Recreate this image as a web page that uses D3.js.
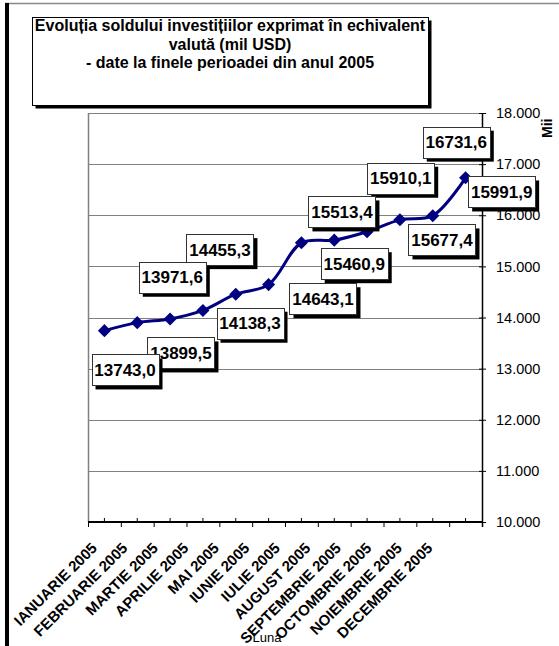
<!DOCTYPE html>
<html><head><meta charset="utf-8">
<script src="https://cdn.jsdelivr.net/npm/d3@7"></script>
<style>body{margin:0;background:#fff}svg{display:block;font-family:"Liberation Sans",Arial,sans-serif}</style>
</head><body>
<svg id="c" width="559" height="646"></svg>
<script>
const categories = ["IANUARIE 2005","FEBRUARIE 2005","MARTIE 2005","APRILIE 2005","MAI 2005","IUNIE 2005","IULIE 2005","AUGUST 2005","SEPTEMBRIE 2005","OCTOMBRIE 2005","NOIEMBRIE 2005","DECEMBRIE 2005"];
const values = [13743.0,13899.5,13971.6,14138.3,14455.3,14643.1,15460.9,15513.4,15677.4,15910.1,15991.9,16731.6];
const yTicks = [10000,11000,12000,13000,14000,15000,16000,17000,18000];
const titleLines = ["Evoluția soldului investițiilor exprimat în echivalent","valută (mil USD)","- date la finele perioadei din anul 2005"];
const xTitle = "Luna";
const yTitle = "Mii";
// label offsets (layout only): dx, dy from point to label centre
const labelOffsets = [[20.6,39.3],[43.7,30.3],[2.2,-41.7],[47.1,12.8],[-15.8,-44.6],[54.4,14.1],[52.8,20.9],[7.7,-28.2],[74.9,8.2],[0.8,-41.6],[68.9,-23.7],[-9.3,-35.7]];

const svg = d3.select("#c");
const L = 88, R = 482, T = 113, B = 522;
const loc = d3.formatLocale({decimal:",", thousands:".", grouping:[3], currency:["",""]});
const fTick = loc.format(",");
const fVal = loc.format(".1f");

// outer frame
svg.append("line").attr("x1",5).attr("x2",559).attr("y1",3.5).attr("y2",3.5).attr("stroke","#888").attr("stroke-width",1.5);
svg.append("rect").attr("x",5).attr("y",3).attr("width",4).attr("height",643).attr("fill","#000");

// title box
svg.append("rect").attr("x",35.5).attr("y",20.5).attr("width",396).attr("height",88).attr("fill","#000");
svg.append("rect").attr("x",32.5).attr("y",17.5).attr("width",396).attr("height",88).attr("fill","#fff").attr("stroke","#000").attr("stroke-width",1);
svg.append("g").selectAll("text").data(titleLines).join("text")
  .attr("x",230).attr("y",(d,i)=>31+i*18.5).attr("text-anchor","middle")
  .attr("font-size","16px").attr("font-weight","bold").text(d=>d);

const x = d3.scaleBand().domain(categories).range([L,R]).padding(0);
const y = d3.scaleLinear().domain([10000,18000]).range([B,T]);

// grid
svg.append("g").selectAll("line").data(yTicks.slice(1)).join("line")
  .attr("x1",L).attr("x2",R).attr("y1",d=>Math.round(y(d))+0.5).attr("y2",d=>Math.round(y(d))+0.5)
  .attr("stroke","#808080").attr("stroke-width",1);
// plot left border
svg.append("line").attr("x1",L+0.5).attr("x2",L+0.5).attr("y1",T).attr("y2",B).attr("stroke","#808080").attr("stroke-width",1.5);

// right axis
const ya = svg.append("g").attr("transform",`translate(${R},0)`)
  .call(d3.axisRight(y).tickValues(yTicks).tickFormat(fTick).tickSize(4).tickPadding(10));
ya.select(".domain").remove();
ya.selectAll(".tick line").attr("x1",-3).attr("x2",4).attr("stroke","#000");
ya.selectAll(".tick text").attr("font-size","14.5px").attr("font-family","Liberation Sans, Arial, sans-serif").attr("fill","#000");
svg.append("line").attr("x1",R+0.5).attr("x2",R+0.5).attr("y1",T).attr("y2",B+5).attr("stroke","#000").attr("stroke-width",1.5);

svg.append("text").attr("transform","translate(552,138) rotate(-90)").attr("font-size","14px").attr("font-weight","bold").text(yTitle);

// x axis
const boundaries = categories.map(c=>x(c)).concat([R]);
svg.append("g").selectAll("line").data(boundaries).join("line")
  .attr("x1",d=>d+0.5).attr("x2",d=>d+0.5).attr("y1",B).attr("y2",B+5).attr("stroke","#000");
svg.append("g").selectAll("line").data(categories).join("line")
  .attr("x1",d=>x(d)+x.bandwidth()/2).attr("x2",d=>x(d)+x.bandwidth()/2).attr("y1",B-4).attr("y2",B).attr("stroke","#000");
svg.append("line").attr("x1",L).attr("x2",R).attr("y1",B).attr("y2",B).attr("stroke","#000").attr("stroke-width",2);

const xl = d3.scalePoint().domain(categories).range([98,433.5]);
svg.append("g").selectAll("text").data(categories).join("text")
  .attr("transform",d=>`translate(${xl(d)},549) rotate(-45)`).attr("text-anchor","end")
  .attr("font-size","15px").attr("font-weight","bold").text(d=>d);
svg.append("text").attr("x",267).attr("y",642).attr("text-anchor","middle").attr("font-size","13px").text(xTitle);

// series
const pts = values.map((v,i)=>({c:categories[i],v,i,px:x(categories[i])+x.bandwidth()/2,py:y(v)}));
svg.append("path").datum(pts).attr("fill","none").attr("stroke","#000080").attr("stroke-width",3)
  .attr("d",d3.line().x(d=>d.px).y(d=>d.py).curve(d3.curveCatmullRom.alpha(0.5)));
svg.append("g").selectAll("path").data(pts).join("path")
  .attr("transform",d=>`translate(${d.px},${d.py}) rotate(45)`)
  .attr("d",d3.symbol(d3.symbolSquare,85)).attr("fill","#000080");

// data labels (draw reverse so earlier are on top)
const lg = svg.append("g");
pts.slice().reverse().forEach(d=>{
  const [dx,dy] = labelOffsets[d.i];
  const cx = d.px+dx, cy = d.py+dy, w=67, h=31;
  const g = lg.append("g");
  g.append("rect").attr("x",cx-w/2+4).attr("y",cy-h/2+4).attr("width",w).attr("height",h).attr("fill","#000");
  g.append("rect").attr("x",Math.round(cx-w/2)+0.5).attr("y",Math.round(cy-h/2)+0.5).attr("width",w).attr("height",h).attr("fill","#fff").attr("stroke","#333");
  g.append("text").attr("x",cx).attr("y",cy+6).attr("text-anchor","middle").attr("font-size","17px").attr("font-weight","bold").text(fVal(d.v));
});
</script>
</body></html>
